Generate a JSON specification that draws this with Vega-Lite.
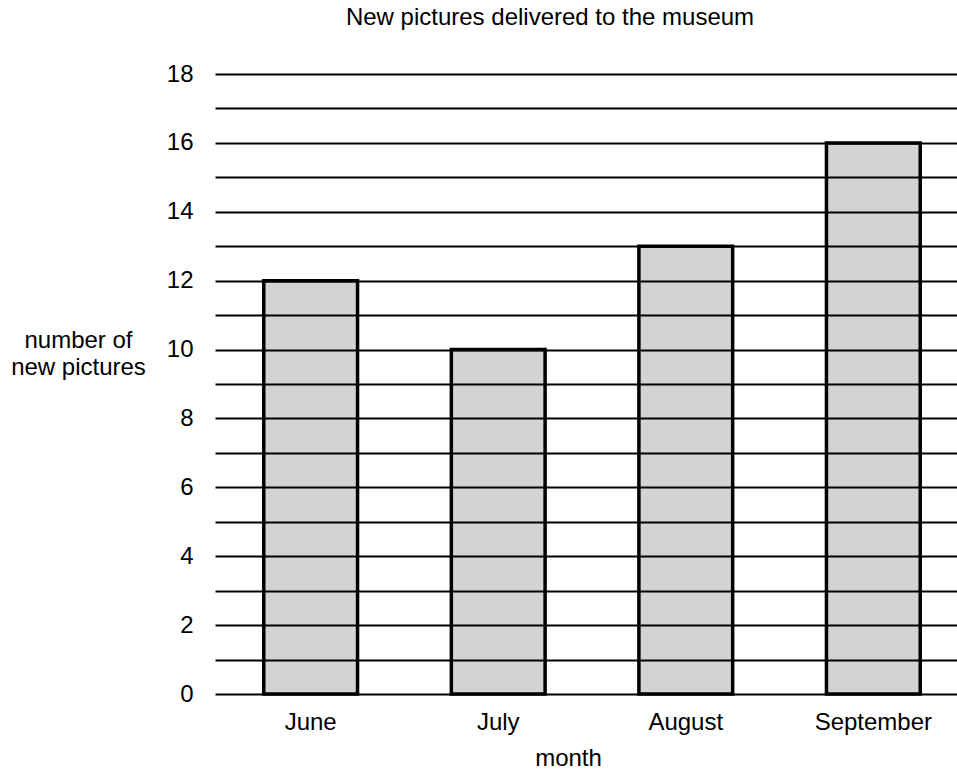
{
  "$schema": "https://vega.github.io/schema/vega-lite/v6.json",
  "autosize": {"type": "none"},
  "padding": {"left": 215, "top": 74, "right": 0, "bottom": 80},
  "width": 742,
  "height": 620,
  "background": "white",
  "config": {
    "view": {"stroke": null},
    "font": "Liberation Sans",
    "axis": {"labelFont": "Liberation Sans", "titleFont": "Liberation Sans", "labelColor": "black", "titleColor": "black"}
  },
  "title": {
    "text": "New pictures delivered to the museum",
    "font": "Liberation Sans",
    "fontSize": 24,
    "fontWeight": "normal",
    "color": "black",
    "anchor": "middle",
    "dx": -36,
    "offset": 32
  },
  "data": {
    "values": [
      {"month": "June", "count": 12},
      {"month": "July", "count": 10},
      {"month": "August", "count": 13},
      {"month": "September", "count": 16}
    ]
  },
  "mark": {"type": "bar", "fill": "#d3d3d3", "stroke": "black", "strokeWidth": 3.5},
  "encoding": {
    "x": {
      "field": "month",
      "type": "nominal",
      "sort": ["June", "July", "August", "September"],
      "scale": {"paddingInner": 0.5, "paddingOuter": 0.26, "range": [0, 754]},
      "axis": {
        "title": "month",
        "titleFontSize": 24,
        "titleFontWeight": "normal",
        "titlePadding": 12,
        "titleX": 353,
        "labelFontSize": 24,
        "labelAngle": 0,
        "labelPadding": 16,
        "ticks": false,
        "domain": false,
        "grid": false
      }
    },
    "y": {
      "field": "count",
      "type": "quantitative",
      "scale": {"domain": [0, 18]},
      "axis": {
        "title": ["number of", "new pictures"],
        "titleFontSize": 24,
        "titleFontWeight": "normal",
        "titleAngle": 0,
        "titleAlign": "center",
        "titleBaseline": "middle",
        "titleLineHeight": 27,
        "titleX": -137,
        "titleY": 266,
        "labelFontSize": 24,
        "labelPadding": 22,
        "ticks": false,
        "domain": false,
        "grid": true,
        "gridColor": "black",
        "gridOpacity": 1,
        "gridWidth": 2,
        "values": [0, 1, 2, 3, 4, 5, 6, 7, 8, 9, 10, 11, 12, 13, 14, 15, 16, 17, 18],
        "labelExpr": "datum.value % 2 == 0 ? datum.label : ''",
        "zindex": 1
      }
    }
  }
}
